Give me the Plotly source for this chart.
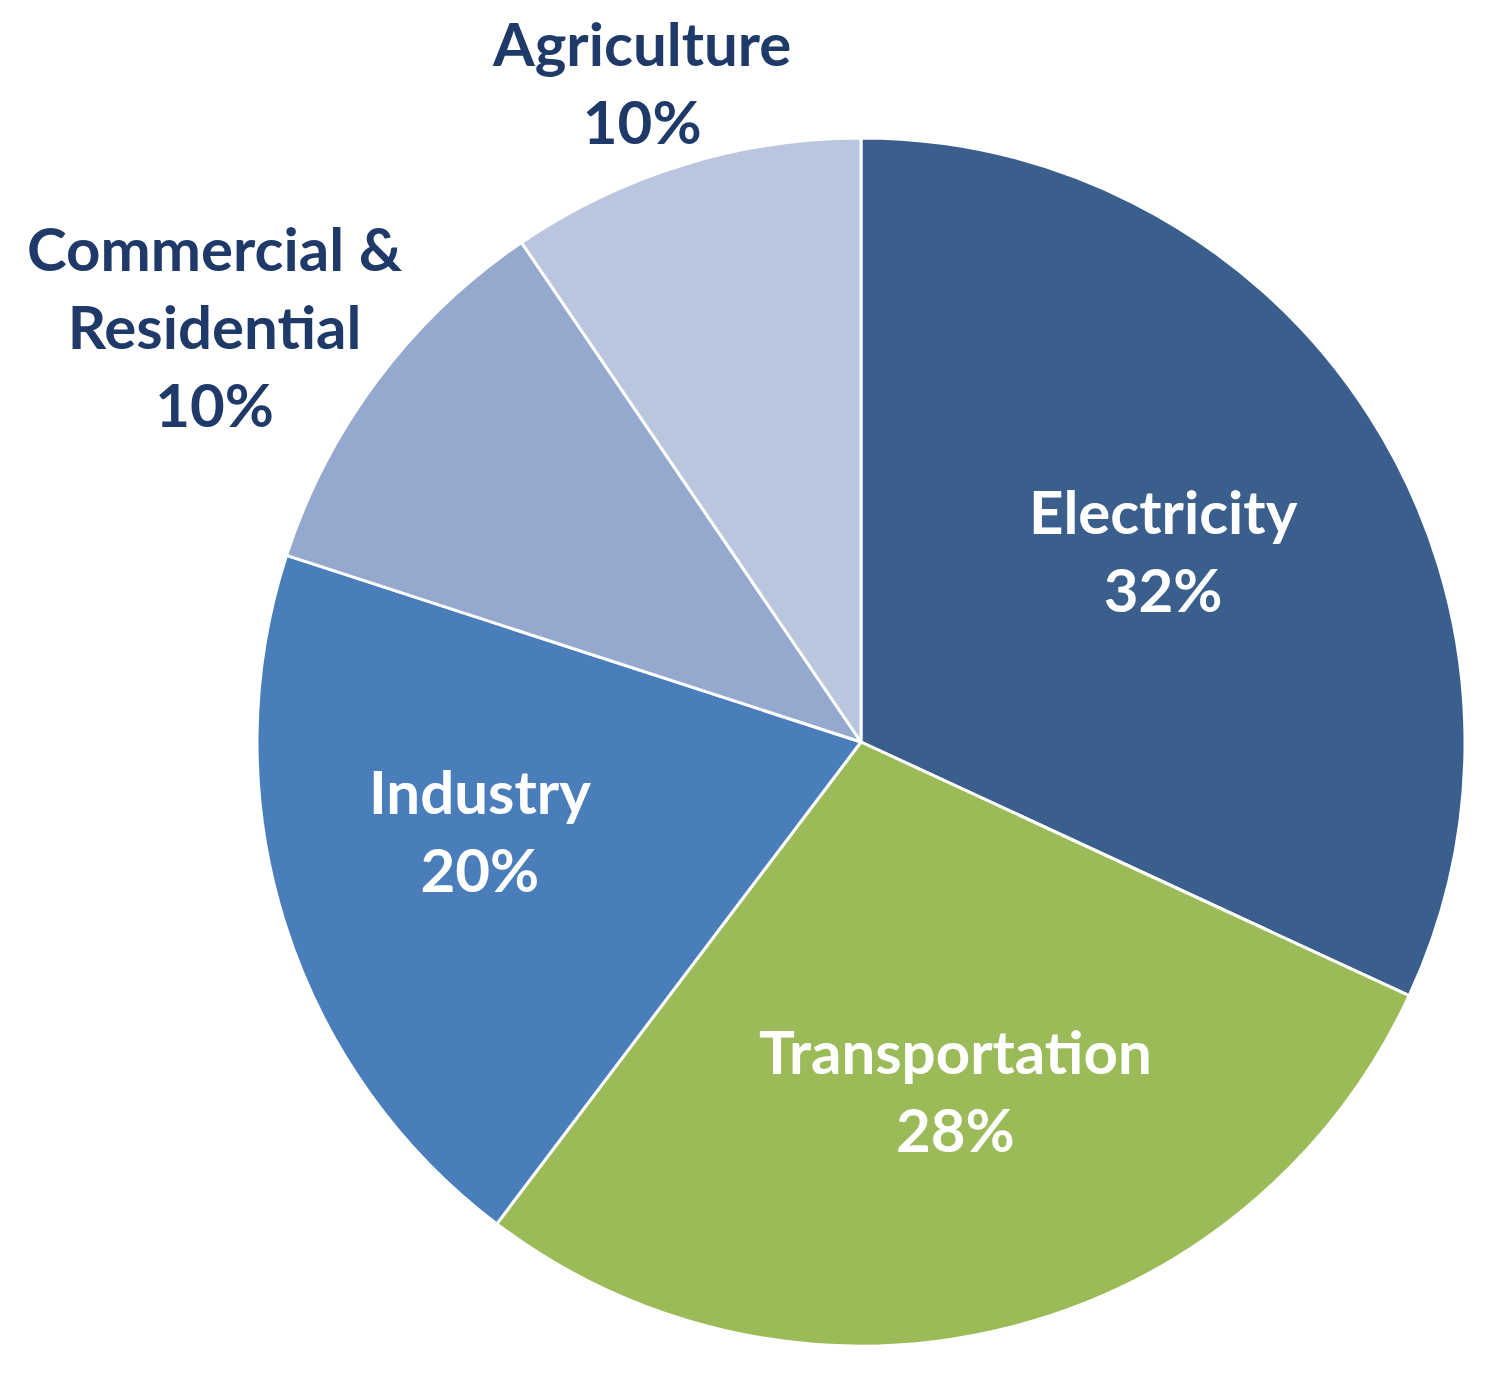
import plotly.graph_objects as go

labels = ["Electricity", "Transportation", "Industry", "Commercial &<br>Residential", "Agriculture"]
values = [31.9, 28.4, 19.7, 10.5, 9.5]
# percentages as printed on the chart
pct_labels = ["32%", "28%", "20%", "10%", "10%"]
colors = ["#3A5F8C", "#9BBB59", "#4A7EBB", "#95A9CF", "#B9C6DE"]
text_colors = ["white", "white", "white", "#1F3A68", "#1F3A68"]
# label block centre positions in pixels (x, y)
label_pos = [(1155, 542), (947, 1082), (472, 822), (207, 318), (633, 74)]

W, H = 1500, 1382
cx, cy, r = 853, 734, 604

fig = go.Figure(go.Pie(
    labels=labels,
    values=values,
    sort=False,
    direction="clockwise",
    rotation=0,
    marker=dict(colors=colors, line=dict(color="white", width=3)),
    textinfo="none",
    hoverinfo="label",
    showlegend=False,
    domain=dict(x=[(cx - r) / W, (cx + r) / W], y=[(H - cy - r) / H, (H - cy + r) / H]),
))

for lab, pct, col, (px, py) in zip(labels, pct_labels, text_colors, label_pos):
    fig.add_annotation(
        x=px / W, y=1 - py / H, xref="paper", yref="paper",
        text=f"<b>{lab}<br>{pct}</b>", showarrow=False,
        xanchor="center", yanchor="middle", align="center",
        font=dict(family="Lato", size=60, color=col),
    )

fig.update_layout(
    width=W, height=H,
    margin=dict(l=0, r=0, t=0, b=0),
    paper_bgcolor="white", plot_bgcolor="white",
)
fig.write_html("out.html")
